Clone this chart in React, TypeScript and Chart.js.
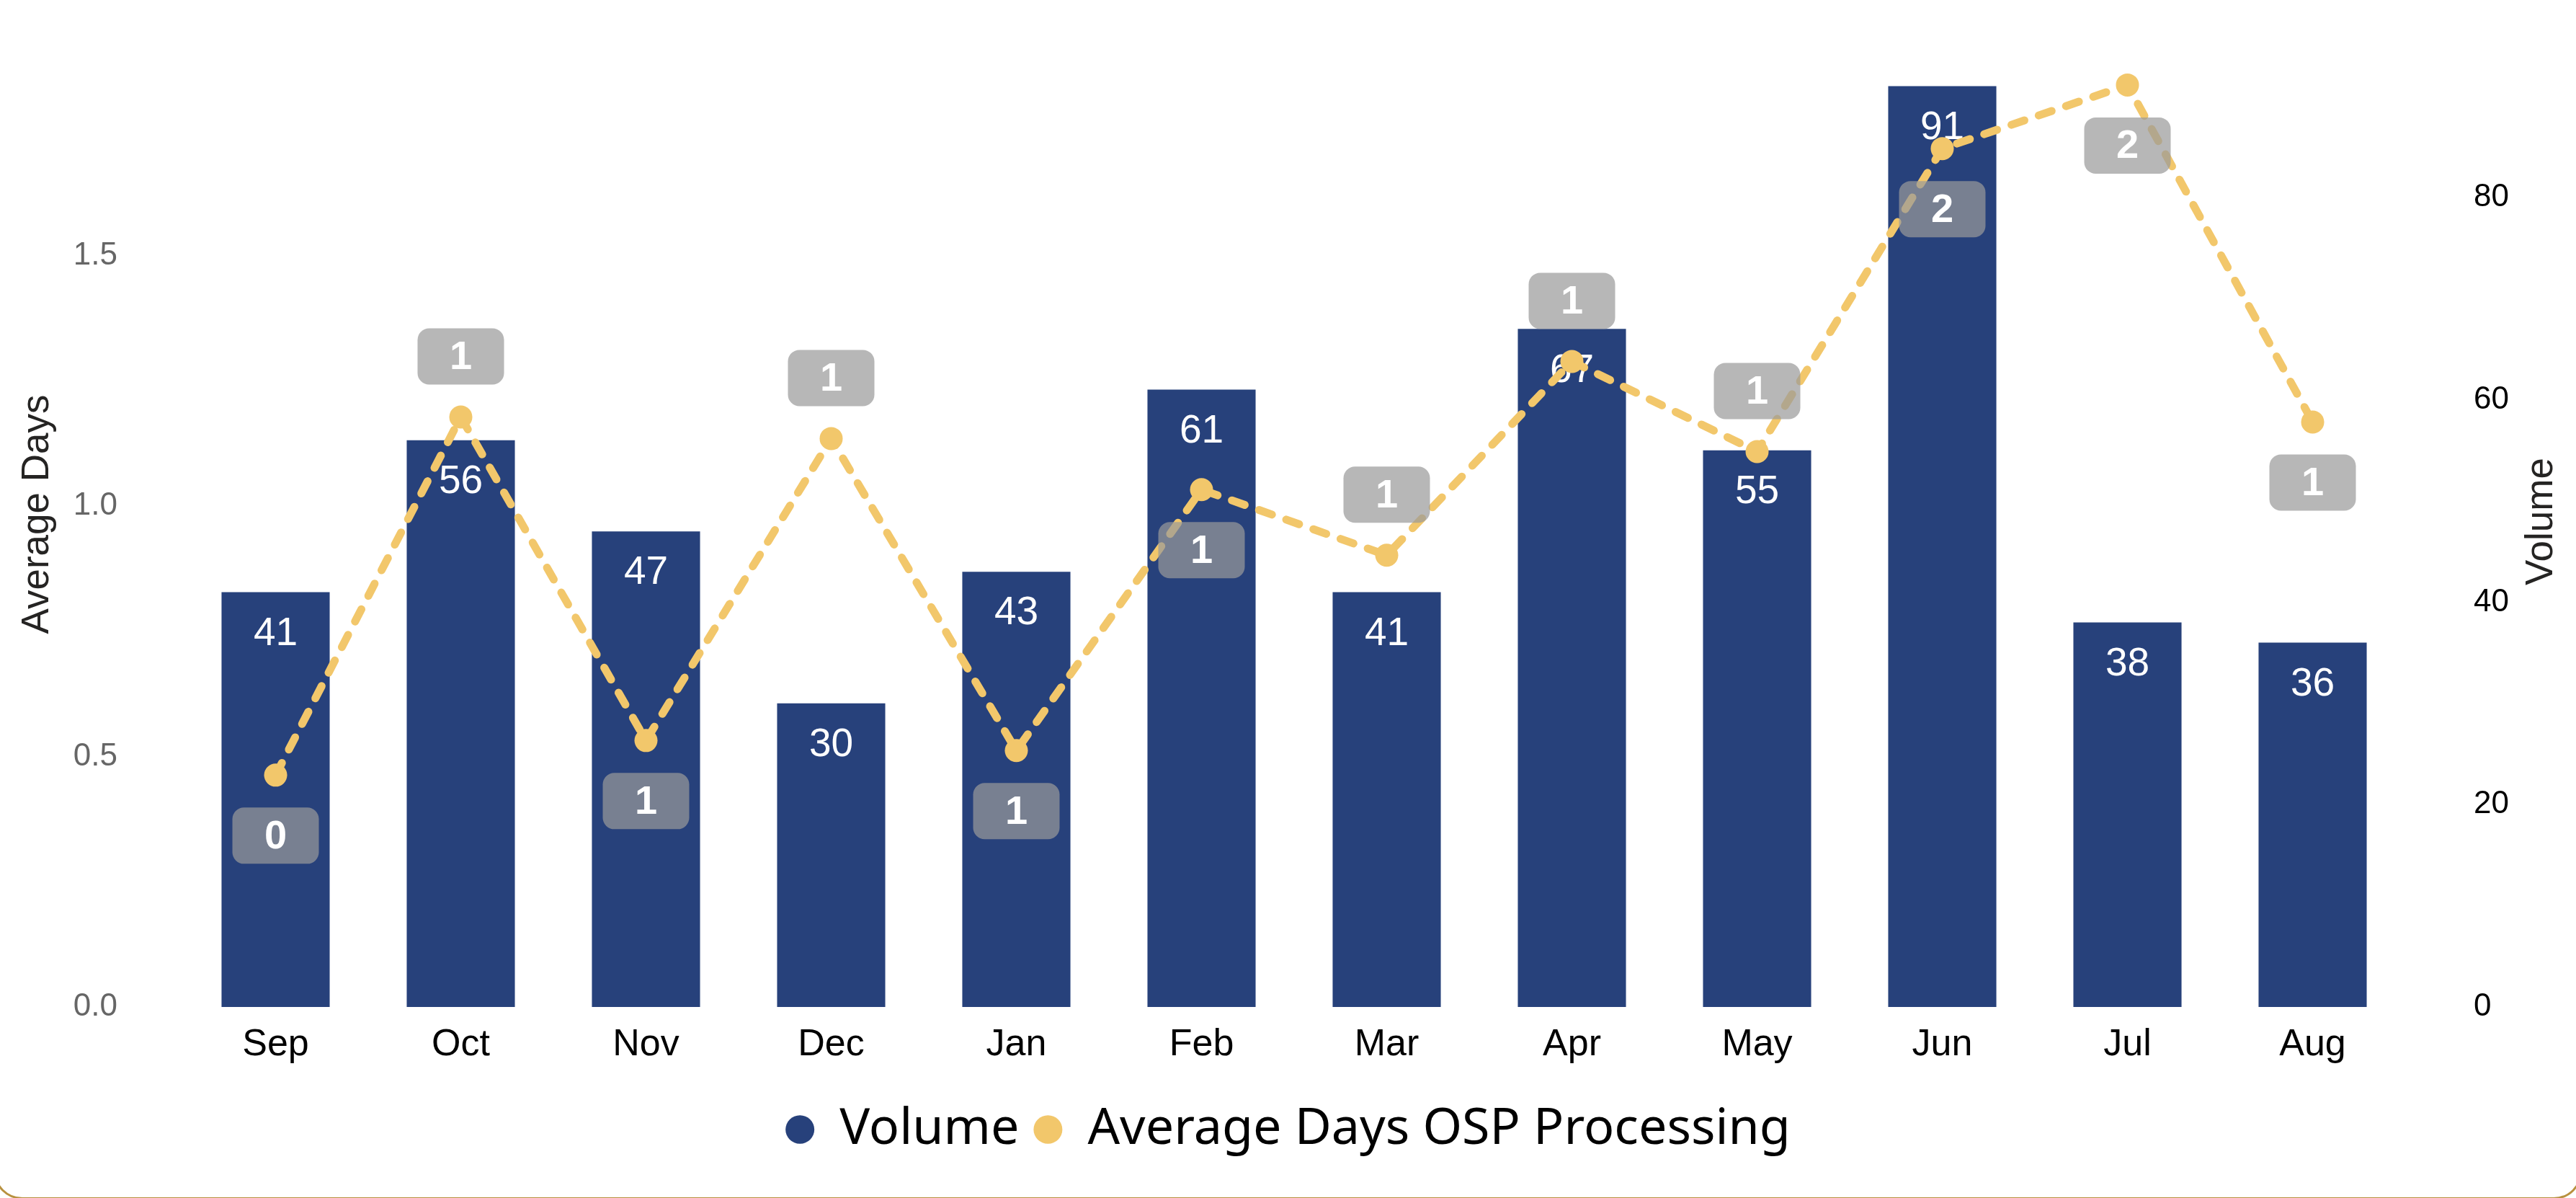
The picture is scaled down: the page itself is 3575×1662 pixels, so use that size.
import React, { useEffect, useRef } from 'react';
import { Chart, registerables } from 'chart.js';

Chart.register(...registerables);

// ---- data ----
const months = ['Sep', 'Oct', 'Nov', 'Dec', 'Jan', 'Feb', 'Mar', 'Apr', 'May', 'Jun', 'Jul', 'Aug'];
const volume = [41, 56, 47, 30, 43, 61, 41, 67, 55, 91, 38, 36];
const avgDays = [0.463, 1.178, 0.532, 1.135, 0.512, 1.033, 0.902, 1.289, 1.109, 1.714, 1.841, 1.168];
const avgLabelSide = ['below', 'above', 'below', 'above', 'below', 'below', 'above', 'above', 'above', 'below', 'below', 'below'];
const leftTicks = [0, 0.5, 1.0, 1.5];
const rightTicks = [0, 20, 40, 60, 80];

// ---- styles ----
const W = 3575;
const H = 1662;
const BAR_COLOR = '#27417B';
const LINE_COLOR = '#F2C76B';
const TITLE_COLOR = '#252423';
const FONT = "'Liberation Sans', Arial, sans-serif";
const LEGEND_FONT = "'Noto Sans', 'Open Sans', sans-serif";
const LEFT_MAX = 1.9675;
const RIGHT_MAX = 97.37;

const labelPlugin = {
  id: 'valueLabels',
  afterDatasetDraw(chart: any, args: any) {
    const ctx = chart.ctx as CanvasRenderingContext2D;
    const meta = args.meta;
    if (args.index === 0) {
      ctx.save();
      ctx.font = `55px ${FONT}`;
      ctx.fillStyle = '#FFFFFF';
      ctx.textAlign = 'center';
      ctx.textBaseline = 'middle';
      meta.data.forEach((el: any, i: number) => {
        ctx.fillText(String(volume[i]), el.x, el.y + 58);
      });
      ctx.restore();
    } else if (args.index === 1) {
      ctx.save();
      meta.data.forEach((el: any, i: number) => {
        const cy = el.y + (avgLabelSide[i] === 'above' ? -84 : 84);
        ctx.fillStyle = 'rgba(153,153,153,0.71)';
        ctx.beginPath();
        (ctx as any).roundRect(el.x - 60, cy - 39, 120, 78, 16);
        ctx.fill();
        ctx.font = `bold 56px ${FONT}`;
        ctx.fillStyle = '#FFFFFF';
        ctx.textAlign = 'center';
        ctx.textBaseline = 'middle';
        ctx.fillText(String(Math.round(avgDays[i])), el.x, cy + 2);
      });
      ctx.restore();
    }
  },
  afterDraw(chart: any) {
    const ctx = chart.ctx as CanvasRenderingContext2D;
    const area = chart.chartArea;
    ctx.save();
    ctx.translate(3527, (area.top + area.bottom) / 2 + 10);
    ctx.rotate(-Math.PI / 2);
    ctx.font = `53px ${FONT}`;
    ctx.fillStyle = TITLE_COLOR;
    ctx.textAlign = 'center';
    ctx.textBaseline = 'middle';
    ctx.fillText('Volume', 0, 0);
    ctx.restore();
  },
};

export default function App() {
  const canvasRef = useRef<HTMLCanvasElement | null>(null);

  useEffect(() => {
    document.body.style.margin = '0';
    document.body.style.overflow = 'hidden';
    const canvas = canvasRef.current;
    if (!canvas) return;
    const chart = new Chart(canvas, {
      type: 'bar',
      data: {
        labels: months,
        datasets: [
          {
            type: 'bar',
            label: 'Volume',
            data: volume,
            yAxisID: 'y1',
            backgroundColor: BAR_COLOR,
            borderWidth: 0,
            barPercentage: 0.584,
            categoryPercentage: 1,
            order: 2,
          } as any,
          {
            type: 'line',
            label: 'Average Days OSP Processing',
            data: avgDays,
            yAxisID: 'y',
            borderColor: LINE_COLOR,
            backgroundColor: LINE_COLOR,
            borderWidth: 11,
            borderDash: [19, 21],
            borderCapStyle: 'round',
            pointRadius: 16,
            pointHoverRadius: 16,
            pointBackgroundColor: LINE_COLOR,
            pointBorderWidth: 0,
            tension: 0,
            fill: false,
            order: 1,
          } as any,
        ],
      },
      options: {
        animation: false,
        responsive: false,
        devicePixelRatio: 1,
        events: [],
        layout: { padding: { top: 30, left: 0, right: 0, bottom: 50 } },
        plugins: {
          tooltip: { enabled: false },
          legend: {
            position: 'bottom',
            labels: {
              usePointStyle: true,
              pointStyle: 'circle',
              pointStyleWidth: 40,
              boxHeight: 28,
              padding: 20,
              color: '#000000',
              font: { size: 70, family: LEGEND_FONT },
              sort: (a: any, b: any) => a.datasetIndex - b.datasetIndex,
              generateLabels: (chart: any) =>
                Chart.defaults.plugins.legend.labels.generateLabels(chart).map((it: any) => ({
                  ...it,
                  lineWidth: 0,
                  lineDash: [],
                  strokeStyle: 'rgba(0,0,0,0)',
                })),
            },
          },
        },
        scales: {
          x: {
            offset: true,
            grid: { display: false, drawTicks: false },
            border: { display: false },
            ticks: {
              color: '#000000',
              font: { size: 52, family: FONT },
              padding: 21,
              maxRotation: 0,
              autoSkip: false,
            },
            afterFit: (s: any) => {
              s.height = 115;
              s.paddingLeft = 0;
              s.paddingRight = 0;
            },
          },
          y: {
            position: 'left',
            min: 0,
            max: LEFT_MAX,
            grid: { display: false, drawTicks: false },
            border: { display: false },
            ticks: {
              color: '#666666',
              font: { size: 44, family: FONT },
              padding: 91,
              callback: (v: any) => Number(v).toFixed(1),
            },
            afterBuildTicks: (s: any) => {
              s.ticks = leftTicks.map((v) => ({ value: v }));
            },
            title: {
              display: true,
              text: 'Average Days',
              color: TITLE_COLOR,
              font: { size: 53, family: FONT },
              padding: { top: 21, bottom: 0 },
            },
            afterFit: (s: any) => {
              s.width = 254;
              s.paddingTop = 0;
              s.paddingBottom = 0;
            },
          },
          y1: {
            position: 'right',
            min: 0,
            max: RIGHT_MAX,
            grid: { display: false, drawTicks: false },
            border: { display: false },
            ticks: {
              color: '#000000',
              font: { size: 44, family: FONT },
              padding: 95,
              callback: (v: any) => String(v),
            },
            afterBuildTicks: (s: any) => {
              s.ticks = rightTicks.map((v) => ({ value: v }));
            },
            afterFit: (s: any) => {
              s.width = 237;
              s.paddingTop = 0;
              s.paddingBottom = 0;
            },
          },
        },
      } as any,
      plugins: [labelPlugin],
    });
    return () => chart.destroy();
  }, []);

  return (
    <div style={{ position: 'relative', width: W, height: H, overflow: 'hidden', background: '#FFFFFF' }}>
      <canvas ref={canvasRef} width={W} height={H} style={{ display: 'block', width: W, height: H }} />
      <div
        style={{
          position: 'absolute',
          left: -9,
          right: -9,
          top: -60,
          bottom: -2,
          border: '3px solid #B8913F',
          borderRadius: 40,
          boxSizing: 'border-box',
          pointerEvents: 'none',
        }}
      />
    </div>
  );
}
